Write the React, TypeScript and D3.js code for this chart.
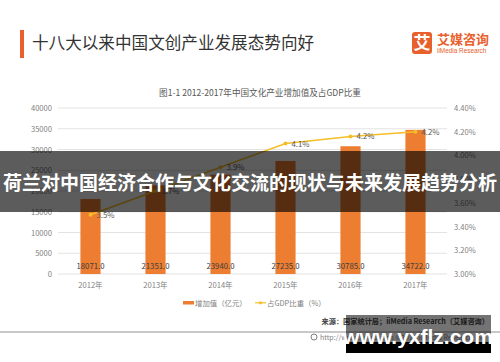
import React from "react";
import { scaleBand, scaleLinear, line } from "d3";

const years = ["2012年", "2013年", "2014年", "2015年", "2016年", "2017年"];
const addedValue = [18071.0, 21351.0, 23940.0, 27235.0, 30785.0, 34722.0];
const gdpShare = [3.5, 3.7, 3.9, 4.1, 4.16, 4.2];
const leftTicks = [0, 5000, 10000, 15000, 20000, 25000, 30000, 35000, 40000];
const rightTicks = [3.0, 3.2, 3.4, 3.6, 3.8, 4.0, 4.2, 4.4];

const FONT = "'Noto Sans CJK SC', 'Noto Sans', sans-serif";
const ORANGE = "#ED7D31";
const GOLD = "#F5BE27";

export default function App() {
  const x = scaleBand<string>()
    .domain(years)
    .range([58, 448])
    .paddingInner(0.69)
    .paddingOuter(0.345);
  const yL = scaleLinear().domain([0, 40000]).range([274, 108]);
  const yR = scaleLinear().domain([3.0, 4.4]).range([274, 108]);
  const cx = (i: number) => (x(years[i]) as number) + x.bandwidth() / 2;

  const gdpLine = line<number>()
    .x((_, i) => cx(i))
    .y((d) => yR(d));

  return (
    <svg
      width={500}
      height={362}
      style={{ position: "absolute", left: 0, top: 0, background: "#fff" }}
      fontFamily={FONT}
    >
      {/* header */}
      <rect x={20} y={30} width={4} height={28} fill="#E8602C" />
      <text x={32} y={49} fontSize={16.6} fill="#333">
        十八大以来中国文创产业发展态势向好
      </text>
      <rect x={412} y={32} width={20} height={22} rx={3} fill="#E8602C" />
      <text x={422} y={49} fontSize={17} fontWeight="bold" fill="#fff" textAnchor="middle">
        艾
      </text>
      <text x={437} y={44} fontSize={13} fontWeight="bold" fill="#E8602C">
        艾媒咨询
      </text>
      <text x={437} y={53} fontSize={6.4} fill="#E8602C" fontFamily="'Liberation Sans', Arial">
        iiMedia Research
      </text>

      <text x={260} y={96} fontSize={8.6} fill="#595959" textAnchor="middle">
        图1-1 2012-2017年中国文化产业增加值及占GDP比重
      </text>

      {/* grid + axes */}
      {leftTicks.map((t) => (
        <g key={t}>
          <line x1={58} x2={447} y1={yL(t)} y2={yL(t)} stroke="#DCDCDC" strokeWidth={0.8} />
          <text x={52} y={yL(t) + 3} fontSize={7.6} fill="#7f7f7f" textAnchor="end">
            {t}
          </text>
        </g>
      ))}
      {rightTicks.map((t) => (
        <text key={t} x={454} y={yR(t) + 3} fontSize={7.6} fill="#7f7f7f">
          {t.toFixed(2)}%
        </text>
      ))}
      {years.map((c) => (
        <text
          key={c}
          x={(x(c) as number) + x.bandwidth() / 2}
          y={288}
          fontSize={7.6}
          fill="#7f7f7f"
          textAnchor="middle"
        >
          {c}
        </text>
      ))}

      {/* bars */}
      {addedValue.map((v, i) => (
        <g key={i}>
          <rect
            x={x(years[i])}
            y={yL(v)}
            width={x.bandwidth()}
            height={yL(0) - yL(v)}
            fill={ORANGE}
          />
          <text x={cx(i)} y={268.5} fontSize={7.8} fill="#404040" textAnchor="middle">
            {v.toFixed(1)}
          </text>
        </g>
      ))}

      {/* line */}
      <path d={gdpLine(gdpShare) ?? ""} fill="none" stroke={GOLD} strokeWidth={1.5} />
      {gdpShare.map((v, i) => (
        <g key={i}>
          <circle cx={cx(i)} cy={yR(v)} r={2} fill={GOLD} />
          <text x={cx(i) + 6} y={yR(v) + 3} fontSize={7.8} fill="#595959">
            {v.toFixed(1)}%
          </text>
        </g>
      ))}

      {/* legend */}
      <rect x={183} y={301} width={11} height={3.5} fill={ORANGE} />
      <text x={195} y={305.5} fontSize={7.4} fill="#7f7f7f">
        增加值（亿元）
      </text>
      <line x1={255} x2={266} y1={302.8} y2={302.8} stroke={GOLD} strokeWidth={1.2} />
      <circle cx={260.5} cy={302.8} r={1.6} fill={GOLD} />
      <text x={267} y={305.5} fontSize={7.4} fill="#7f7f7f">
        占GDP比重（%）
      </text>

      {/* footer */}
      <text x={489} y={324} fontSize={7.2} fill="#404040" fontWeight="bold" textAnchor="end">
        来源：国家统计局；iiMedia Research（艾媒咨询）
      </text>
      <line x1={0} x2={500} y1={332} y2={332} stroke="#C8C8C8" strokeWidth={1.8} />
      <circle cx={314} cy={337} r={3} fill="none" stroke="#7f7f7f" strokeWidth={1} />
      <text x={320} y={340} fontSize={7} fill="#7f7f7f">
        http://www.iimedia.cn ©2018 iiMedia Research Inc
      </text>

      {/* overlay banner */}
      <rect x={0} y={151} width={500} height={61} fill="rgba(0,0,0,0.64)" />
      <text
        x={250}
        y={189.5}
        fontSize={19}
        fontWeight="bold"
        fill="#fff"
        textAnchor="middle"
      >
        荷兰对中国经济合作与文化交流的现状与未来发展趋势分析
      </text>

      {/* watermark */}
      <rect x={346} y={315} width={145} height={27} fill="rgba(0,0,0,0.55)" />
      <rect x={346} y={342} width={145} height={11} fill="#000" />
      <text
        x={418}
        y={344}
        fontSize={21}
        fontWeight="bold"
        fill="#fff"
        textAnchor="middle"
        fontFamily="'Liberation Sans', Arial, sans-serif"
      >
        www.yxflz.com
      </text>
    </svg>
  );
}
